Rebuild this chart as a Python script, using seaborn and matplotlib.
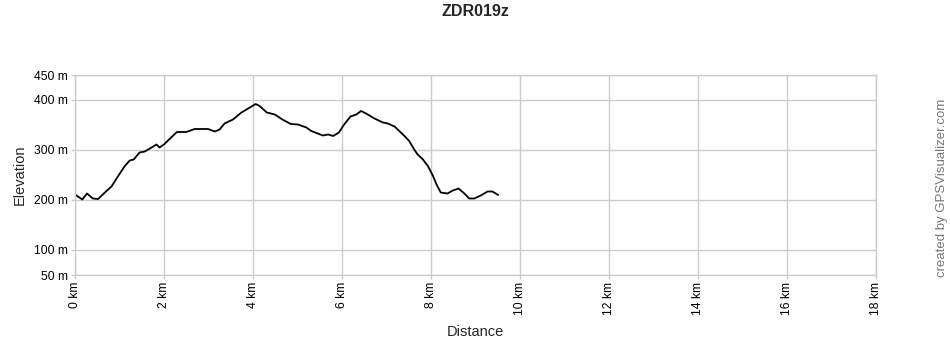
import matplotlib
matplotlib.use("Agg")
import matplotlib.pyplot as plt
import seaborn as sns
import pandas as pd

distance_km = [0.00, 0.165, 0.27, 0.40, 0.52, 0.67, 0.82, 0.97, 1.12, 1.23, 1.32, 1.45,
               1.57, 1.72, 1.83, 1.90, 2.01, 2.16, 2.29, 2.50, 2.69, 2.99, 3.14, 3.25,
               3.36, 3.55, 3.74, 3.93, 4.06, 4.15, 4.31, 4.49, 4.66, 4.85, 5.01, 5.20,
               5.31, 5.57, 5.69, 5.80, 5.93, 6.04, 6.19, 6.32, 6.43, 6.56, 6.73, 6.92,
               7.03, 7.18, 7.37, 7.51, 7.63, 7.70, 7.81, 7.93, 8.04, 8.13, 8.22, 8.37,
               8.49, 8.62, 8.75, 8.86, 8.97, 9.12, 9.27, 9.38, 9.51]
elevation_m = [211, 201, 213, 203, 202, 215, 227, 248, 268, 279, 281, 295,
               297, 305, 311, 305, 312, 325, 336, 336, 342, 342, 337, 341,
               353, 361, 375, 385, 392, 388, 375, 371, 361, 352, 351, 345,
               338, 329, 331, 328, 335, 350, 367, 371, 378, 372, 363, 355,
               353, 347, 331, 318, 300, 291, 282, 268, 249, 230, 215, 213,
               219, 223, 213, 203, 203, 209, 217, 217, 210]

y_ticks = [50, 100, 200, 300, 400, 450]
x_ticks = [0, 2, 4, 6, 8, 10, 12, 14, 16, 18]
title = "ZDR019z"
credit = "created by GPSVisualizer.com"

df = pd.DataFrame({"Distance": distance_km, "Elevation": elevation_m})

sns.set_theme(style="white")
plt.rcParams["font.family"] = ["Liberation Sans", "DejaVu Sans"]

fig = plt.figure(figsize=(9.5, 3.5), dpi=100)
ax = fig.add_axes([75 / 950, 75 / 350, 801 / 950, 200 / 350])

sns.lineplot(data=df, x="Distance", y="Elevation", ax=ax, color="black",
             linewidth=1.3, sort=False)

ax.set_xlim(0, 18)
ax.set_ylim(50, 450)
ax.set_xticks(x_ticks)
ax.set_xticklabels([f"{t} km" for t in x_ticks], rotation=90, fontsize=8.7, color="#000000")
ax.set_yticks(y_ticks)
ax.set_yticklabels([f"{t} m" for t in y_ticks], fontsize=8.7, color="#000000")
ax.grid(True, color="#cccccc", linewidth=1)
ax.tick_params(axis="both", which="both", length=3, width=1, color="#cccccc",
               direction="out", pad=2, left=True, bottom=True)
for s in ax.spines.values():
    s.set_color("#cccccc")
    s.set_linewidth(1)

ax.set_xlabel("Distance", fontsize=10.5, labelpad=7)
ax.set_ylabel("Elevation", fontsize=10.5, labelpad=5)

fig.text(0.5, 1 - 12 / 350, title, ha="center", va="center", fontsize=11.5,
         fontweight="bold")
fig.text(942 / 950, 1 - 188 / 350, credit, ha="center", va="center", rotation=90,
         fontsize=9.5, color="#777777")

fig.savefig("out.png", dpi=100, facecolor="white")
